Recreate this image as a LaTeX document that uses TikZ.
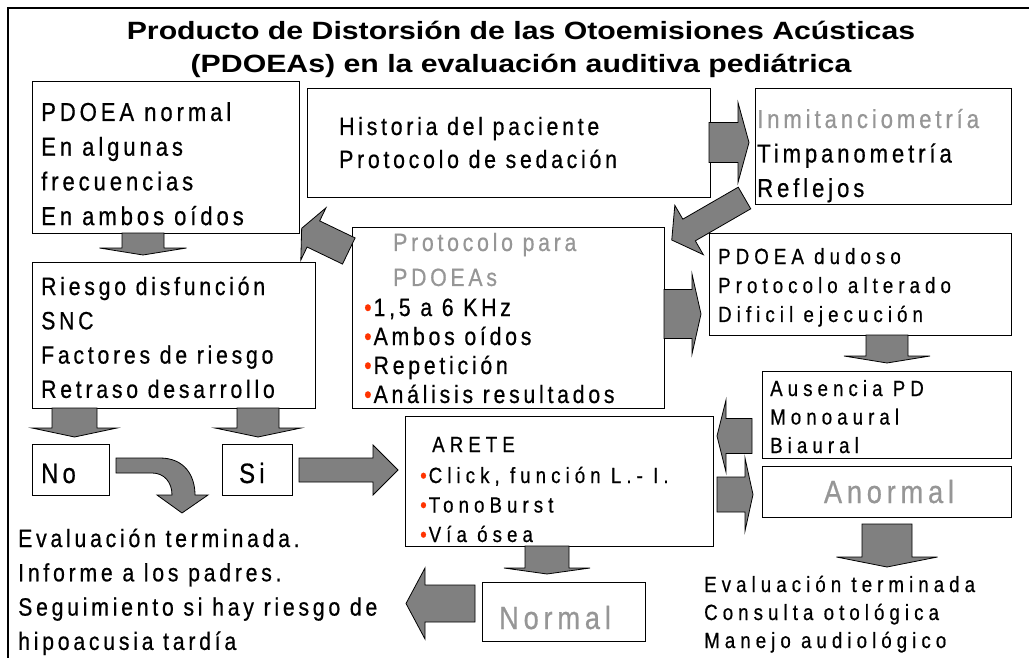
\documentclass[tikz,border=0pt]{standalone}
\usepackage{fontspec}
\setmainfont{Liberation Sans}
\newfontfamily\bx[FakeStretch=0.85,LetterSpace=15,FakeBold=0.6]{Liberation Sans}
\newfontfamily\bxs[FakeStretch=0.85,LetterSpace=23,FakeBold=0.6]{Liberation Sans}
\newfontfamily\ttl[FakeStretch=1.21]{Liberation Sans}
\definecolor{arrgray}{RGB}{128,128,128}
\definecolor{txtgray}{RGB}{150,150,150}
\definecolor{bulred}{RGB}{255,51,0}
\newcommand\fs[2]{\fontsize{#1}{#2}\selectfont}
\newcommand\lns[1]{\begin{tabular}[t]{@{}l@{}}#1\end{tabular}}
\newcommand\bul{{\color{bulred}•}\hspace{2pt}}
% tail point, angle, total length, shaft width, head width, head length
\newcommand\barrow[6]{%
  \begin{scope}[shift={(#1)},rotate=#2]
    \path[blockarrow] (0,{-#4/2}) -- ({#3-#6},{-#4/2}) -- ({#3-#6},{-#5/2}) -- (#3,0)
      -- ({#3-#6},{#5/2}) -- ({#3-#6},{#4/2}) -- (0,{#4/2}) -- cycle;
  \end{scope}}
\begin{document}
\begin{tikzpicture}[x=1pt,y=-1pt,
  box/.style={draw, line width=0.9pt, fill=white, inner sep=0pt},
  blockarrow/.style={draw, line width=0.8pt, fill=arrgray, line join=miter},
  txt/.style={inner sep=0pt, anchor=base west}]
\useasboundingbox (0,0) rectangle (1029,658);
\draw[line width=2.5pt] (8,658) -- (8,8) -- (1029,8);

% title
\node[inner sep=0pt, anchor=base] (t1) at (521,40) {\ttl\bfseries\fs{25}{30}Producto de Distorsión de las Otoemisiones Acústicas};
\node[inner sep=0pt, anchor=base] (t2) at (521,73) {\ttl\bfseries\fs{25}{30}(PDOEAs) en la evaluación auditiva pediátrica};

% boxes
\node[box, minimum width=267pt, minimum height=152pt] (A) at (165.5,157) {};
\node[box, minimum width=403pt, minimum height=109pt] (B) at (508.5,142.5) {};
\node[box, minimum width=256pt, minimum height=116pt] (C) at (883,146) {};
\node[box, minimum width=283pt, minimum height=146pt] (D) at (173.5,335) {};
\node[box, minimum width=312pt, minimum height=181pt] (E) at (508,317.5) {};
\node[box, minimum width=302pt, minimum height=102pt] (F) at (860,284) {};
\node[box, minimum width=249pt, minimum height=87pt] (G) at (886.5,414.5) {};
\node[box, minimum width=249pt, minimum height=51pt] (H) at (886.5,491.5) {};
\node[box, minimum width=308pt, minimum height=130pt] (I) at (559,481) {};
\node[box, minimum width=77pt, minimum height=51pt] (No) at (70.5,469.5) {};
\node[box, minimum width=70pt, minimum height=51pt] (Si) at (257,469.5) {};
\node[box, minimum width=163pt, minimum height=59pt] (Nor) at (563.5,611.5) {};

% texts
\node[txt] (tA) at (41,121) {\bx\fs{26}{34.7}\lns{PDOEA normal\\En algunas\\frecuencias\\En ambos oídos}};
\node[txt] (tB) at (339,135) {\bx\fs{25}{33}\lns{Historia del paciente\\Protocolo de sedación}};
\node[txt] (tC) at (757,128) {\bx\fs{26}{34.5}\lns{\textcolor{txtgray}{Inmitanciometría}\\Timpanometría\\Reflejos}};
\node[txt] (tD) at (41,295) {\bx\fs{25}{34.3}\lns{Riesgo disfunción\\SNC\\Factores de riesgo\\Retraso desarrollo}};
\node[txt] (tE1) at (393,251) {\bx\fs{25}{35}\color{txtgray}\lns{Protocolo para\\PDOEAs}};
\node[txt] (tE2) at (364,316) {\bx\fs{25}{29}\lns{\bul 1,5 a 6 KHz\\\bul Ambos oídos\\\bul Repetición\\\bul Análisis resultados}};
\node[txt] (tF) at (718,264) {\bxs\fs{22}{29}\lns{PDOEA dudoso\\Protocolo alterado\\Dificil ejecución}};
\node[txt] (tG) at (770,396) {\bxs\fs{22}{28.5}\lns{Ausencia PD\\Monoaural\\Biaural}};
\node[inner sep=0pt, anchor=base] (tH) at (889,503) {\bx\fs{32}{32}\color{txtgray}Anormal};
\node[txt] (tI1) at (432,452) {\bxs\fs{22}{30}ARETE};
\node[txt] (tI2) at (420,483) {\bxs\fs{22}{29.5}\lns{\bul Click, función L.- I.\\\bul TonoBurst\\\bul Vía ósea}};
\node[txt] (tNo) at (41,483) {\bx\fs{28}{28}No};
\node[txt] (tSi) at (239,483) {\bx\fs{28}{28}Si};
\node[txt] (tNor) at (499,629) {\bx\fs{32}{32}\color{txtgray}Normal};
\node[txt] (tBL) at (18,547) {\bx\fs{25}{34.3}\lns{Evaluación terminada.\\Informe a los padres.\\Seguimiento si hay riesgo de\\hipoacusia tardía}};
\node[txt] (tBR) at (704,592) {\bxs\fs{22}{28}\lns{Evaluación terminada\\Consulta otológica\\Manejo audiológico}};

% block arrows
\barrow{709,142.5}{0}{40}{40}{80}{11}
\barrow{744.5,198}{210}{84}{25}{57}{20}
\barrow{348.8,251}{154.3}{52.3}{29}{58}{13}
\barrow{143,233}{-90}{22}{42}{87}{7}
\barrow{664,314}{0}{37}{49}{80}{9}
\barrow{887,335}{-90}{28}{42}{86}{7}
\barrow{752,436}{180}{35}{35}{72}{9}
\barrow{717,494.5}{0}{36}{35}{73}{8}
\barrow{887,524}{-90}{43}{50}{101}{10}
\barrow{547,546}{-90}{28}{44}{86}{6}
\barrow{475,603.5}{180}{69}{37}{71}{19}
\barrow{74.5,408}{-90}{29}{45}{85}{9}
\barrow{258,408}{-90}{29}{42}{86}{9}
\barrow{299,470}{0}{99}{24}{50}{25}
% curved arrow from No
\path[blockarrow] (116,458) -- (160,458) .. controls (184,458) and (195,475) .. (195,495)
  -- (208,495) -- (182,513) -- (157,495) -- (172,495)
  .. controls (172,482) and (164,473) .. (152,473) -- (116,473) -- cycle;
\end{tikzpicture}
\end{document}
